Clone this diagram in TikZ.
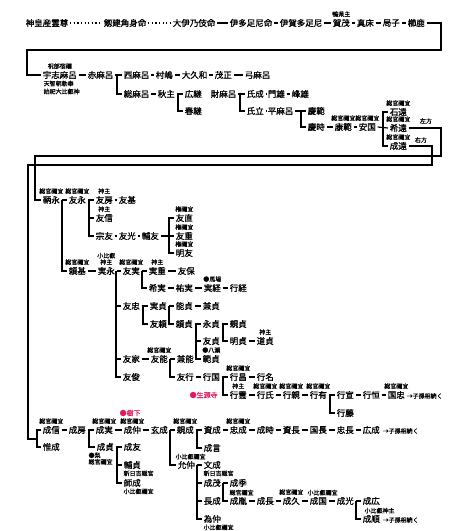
\documentclass[tikz,border=0pt]{standalone}
\usepackage{fontspec}
\newfontfamily\jp{Noto Sans CJK JP}[FakeBold=1.2]
\newfontfamily\jpl{Noto Sans CJK JP}[FakeBold=0.6]
\usetikzlibrary{positioning}
\definecolor{jugered}{RGB}{222,28,92}
\tikzset{
  nm/.style={font=\jp\fontsize{8.5}{9}\selectfont, inner xsep=1.2pt, inner ysep=1pt, anchor=west},
  lb/.style={font=\jpl\fontsize{6}{6.5}\selectfont, inner sep=0pt},
  hk/.style={font=\jpl\fontsize{7}{7.5}\selectfont, inner sep=0pt, anchor=west, text=jugered},
}
\begin{document}
\begin{tikzpicture}[x=1pt,y=-1pt,line width=1.2pt]
\useasboundingbox (0,0) rectangle (464,531);

%top row
\node[nm] (kamimusubi) at (24,23) {神皇産霊尊};
\node[nm] (tsunumi) at (102,23) {剱建角身命};
\node[nm] (oikino) at (171,23) {大伊乃伎命};
\node[nm] (itatsu) at (228,23) {伊多足尼命};
\node[nm] (igata) at (278,23) {伊賀多足尼};
\node[nm] (kamo) at (331,23) {賀茂};
\node[lb,above=0pt of kamo] (kamo-l) {鴨県主};
\node[nm] (matoko) at (355,23) {真床};
\node[nm] (tsuboneko) at (381,23) {局子};
\node[nm] (kushika) at (406,23) {櫛鹿};
\draw[dash pattern=on 1.2pt off 2.4pt] (kamimusubi.east) -- (tsunumi.west) (tsunumi.east) -- (oikino.west);
\draw (oikino.east) -- (itatsu.west) (itatsu.east) -- (igata.west) (igata.east) -- (kamo.west)
      (kamo.east) -- (matoko.west) (matoko.east) -- (tsuboneko.west) (tsuboneko.east) -- (kushika.west);
\coordinate (bendA) at (441,50);
\coordinate (bendB) at (27,50);

%ushimaro
\node[nm] (ushimaro) at (41,75) {宇志麻呂};
\node[lb,above=0pt of ushimaro] (ushimaro-l) {祝部宿禰};
\node[lb,anchor=west] (ushimaro-l2) at (43,83.5) {天智朝勅奉};
\node[lb,anchor=west] (ushimaro-l3) at (43,91.5) {始祀大比叡神};
\draw (kushika.east) -| (bendA) -- (bendB) |- (ushimaro.west);
\node[nm] (akamaro) at (86,75) {赤麻呂};
\node[nm] (nishimaro) at (122,75) {西麻呂};
\node[nm] (murashima) at (154,75) {村嶋};
\node[nm] (okuwa) at (180,75) {大久和};
\node[nm] (shigemasa) at (213,75) {茂正};
\node[nm] (yumimaro) at (243,75) {弓麻呂};
\draw (ushimaro.east) -- (akamaro.west) (akamaro.east) -- (nishimaro.west);
\draw (nishimaro.east) -- (murashima.west) (murashima.east) -- (okuwa.west)
      (okuwa.east) -- (shigemasa.west) (shigemasa.east) -- (yumimaro.west);

\node[nm] (fusamaro) at (122,94) {総麻呂};
\node[nm] (akinushi) at (156,94) {秋主};
\node[nm] (hirotsugu) at (183,94) {広継};
\node[nm] (harutsugu) at (183,111) {春継};
\node[nm] (takaramaro) at (209,94) {財麻呂};
\draw ([xshift=-5pt]nishimaro.west) |- (fusamaro.west);
\draw (fusamaro.east) -- (akinushi.west) (akinushi.east) -- (hirotsugu.west);
\draw ([xshift=-5pt]hirotsugu.west) |- (harutsugu.west);

\node[nm] (ujinari) at (245,94) {氏成};
\node[nm] (kadoo) at (266,94) {門雄};
\node[nm] (mineo) at (290,94) {峰雄};
\node[nm] (ujitatsu) at (245,111) {氏立};
\node[nm] (hiramaro) at (266,111) {平麻呂};
\node[nm] (keihan) at (306,111) {慶範};
\node[nm] (keiji) at (306,127) {慶時};
\node[nm] (kohan) at (333,127) {康範};
\node[nm] (yasukuni) at (357,127) {安国};
\node[lb,above=0pt of kohan] (kohan-l) {総官禰宜};
\node[lb,above=0pt of yasukuni] (yasukuni-l) {総官禰宜};
\draw (takaramaro.east) -- (ujinari.west) (ujinari.east) -- (kadoo.west) (kadoo.east) -- (mineo.west);
\draw ([xshift=-5pt]ujinari.west) |- (ujitatsu.west);
\draw (ujitatsu.east) -- (hiramaro.west) (hiramaro.east) -- (keihan.west);
\draw ([xshift=-5pt]keihan.west) |- (keiji.west);
\draw (keiji.east) -- (kohan.west) (kohan.east) -- (yasukuni.west);

\node[nm] (ishito) at (388,112) {石遠};
\node[nm] (marito) at (388,128) {希遠};
\node[nm] (narito) at (388,146) {成遠};
\node[lb,above=0pt of ishito] (ishito-l) {総官禰宜};
\node[lb,above=0pt of marito] (marito-l) {総官禰宜};
\node[lb,above=0pt of narito] (narito-l) {総官禰宜};
\draw (yasukuni.east) -- (marito.west);
\draw (ishito.west) -- ++(-5pt,0) |- (narito.west);

%left / right lines
\node[lb] (hidari) at (426,121) {左方};
\node[lb] (migi) at (421,140) {右方};
\coordinate (lc1) at (441,156);
\coordinate (lc2) at (35,156);
\coordinate (rc1) at (432,165);
\coordinate (rc2) at (28,165);
\coordinate (rc3) at (38,439);

%tomoe line
\node[nm] (tomoe) at (41,200) {鞆永};
\node[nm] (tomonaga) at (67,200) {友永};
\node[nm] (tomofusa) at (94,200) {友房};
\node[nm] (tomomoto) at (117,200) {友基};
\node[nm] (tomonobu) at (94,218) {友信};
\node[nm] (munetomo) at (94,236) {宗友};
\node[nm] (tomomitsu) at (117,236) {友光};
\node[nm] (suketomo) at (140,236) {輔友};
\node[nm] (tomonao) at (174,218) {友直};
\node[nm] (tomoshige) at (174,236) {友重};
\node[nm] (akitomo) at (174,253) {明友};
\node[lb,above=0pt of tomoe] (tomoe-l) {総官禰宜};
\node[lb,above=0pt of tomonaga] (tomonaga-l) {総官禰宜};
\node[lb,above=0pt of tomofusa] (tomofusa-l) {神主};
\node[lb,above=0pt of tomonobu] (tomonobu-l) {神主};
\node[lb,above=0pt of tomonao] (tomonao-l) {権禰宜};
\node[lb,above=0pt of tomoshige] (tomoshige-l) {権禰宜};
\node[lb,above=0pt of akitomo] (akitomo-l) {権禰宜};
\draw (marito.east) -| (lc1) -- (lc2) |- (tomoe.west);
\draw (tomoe.east) -- (tomonaga.west) (tomonaga.east) -- (tomofusa.west) (tomofusa.east) -- (tomomoto.west);
\draw ([xshift=-5pt]tomofusa.west) |- (tomonobu.west) ([xshift=-5pt]tomofusa.west) |- (munetomo.west);
\draw (munetomo.east) -- (tomomitsu.west) (tomomitsu.east) -- (suketomo.west) (suketomo.east) -- (tomoshige.west);
\draw (tomonao.west) -- ++(-5pt,0) |- (akitomo.west);

%yorimoto line
\node[nm] (yorimoto) at (67,271) {頼基};
\node[nm] (sanenaga) at (96,271) {実永};
\node[nm] (tomozane) at (121,271) {友実};
\node[nm] (saneshige) at (147,271) {実重};
\node[nm] (tomoyasu) at (176,271) {友保};
\node[nm] (marezane) at (147,288) {希実};
\node[nm] (sukezane) at (174,288) {祐実};
\node[nm] (sanetsune) at (202,288) {実経};
\node[nm] (yukitsune) at (228,288) {行経};
\node[lb,above=0pt of yorimoto] (yorimoto-l) {総官禰宜};
\node[lb,above=0pt of sanenaga,align=center] (sanenaga-l) {小比叡\\神主};
\node[lb,above=0pt of tomozane] (tomozane-l) {総官禰宜};
\node[lb,above=0pt of saneshige] (saneshige-l) {神主};
\node[lb,above=0pt of sanetsune] (sanetsune-l) {●馬場};
\draw ([xshift=-5pt]tomonaga.west) |- (yorimoto.west);
\draw (yorimoto.east) -- (sanenaga.west) (sanenaga.east) -- (tomozane.west)
      (tomozane.east) -- (saneshige.west) (saneshige.east) -- (tomoyasu.west);
\draw ([xshift=-5pt]saneshige.west) |- (marezane.west);
\draw (marezane.east) -- (sukezane.west) (sukezane.east) -- (sanetsune.west) (sanetsune.east) -- (yukitsune.west);

\node[nm] (tomotada) at (121,306) {友忠};
\node[nm] (sanesada) at (148,306) {実貞};
\node[nm] (yoshisada) at (174,306) {能貞};
\node[nm] (kanesada) at (201,306) {兼貞};
\node[nm] (tomoyori) at (148,324) {友頼};
\node[nm] (yorisada) at (174,324) {頼貞};
\node[nm] (nagasada) at (201,324) {永貞};
\node[nm] (chikasada) at (228,324) {親貞};
\node[nm] (tomosada) at (201,341) {友貞};
\node[nm] (akisada) at (228,341) {明貞};
\node[nm] (michisada) at (255,341) {道貞};
\node[nm] (norisada) at (201,359) {範貞};
\node[lb,above=0pt of michisada] (michisada-l) {神主};
\node[lb,above=0pt of norisada] (norisada-l) {●八瀬};
\draw (tomotada.east) -- (sanesada.west) (sanesada.east) -- (yoshisada.west) (yoshisada.east) -- (kanesada.west);
\draw ([xshift=-5pt]sanesada.west) |- (tomoyori.west);
\draw ([xshift=-5pt]yoshisada.west) |- (yorisada.west);
\draw (yorisada.east) -- (nagasada.west) (nagasada.east) -- (chikasada.west);
\draw ([xshift=-5pt]nagasada.west) |- (tomosada.west) ([xshift=-5pt]nagasada.west) |- (norisada.west);
\draw ([xshift=-5pt]chikasada.west) |- (akisada.west);
\draw (akisada.east) -- (michisada.west);

\node[nm] (tomoie) at (121,359) {友家};
\node[nm] (tomoyoshi) at (149,359) {友能};
\node[nm] (kaneyoshi) at (175,359) {兼能};
\node[nm] (tomotoshi) at (121,377) {友俊};
\node[nm] (tomoyuki) at (175,377) {友行};
\node[nm] (yukikuni) at (201,377) {行国};
\node[nm] (yukimasa) at (228,377) {行昌};
\node[nm] (yukina) at (255,377) {行名};
\node[lb,above=0pt of tomoyoshi] (tomoyoshi-l) {総官禰宜};
\node[lb,above=0pt of yukimasa] (yukimasa-l) {総官禰宜};
\draw ([xshift=-5pt]tomozane.west) |- (tomotada.west) ([xshift=-5pt]tomozane.west) |- (tomoie.west)
      ([xshift=-5pt]tomozane.west) |- (tomotoshi.west);
\draw (tomoie.east) -- (tomoyoshi.west) (tomoyoshi.east) -- (kaneyoshi.west);
\draw ([xshift=-5pt]kaneyoshi.west) |- (tomoyuki.west);
\draw (tomoyuki.east) -- (yukikuni.west) (yukikuni.east) -- (yukimasa.west) (yukimasa.east) -- (yukina.west);

%shogenji
\node[hk] (shogenji) at (189,395) {●生源寺};
\node[nm] (yukiun) at (228,395) {行雲};
\node[nm] (yukiuji) at (255,395) {行氏};
\node[nm] (yukichika) at (281,395) {行親};
\node[nm] (yukiari) at (308,395) {行有};
\node[nm] (yukinobu) at (335,395) {行宣};
\node[nm] (yukitsuneB) at (361,395) {行恒};
\node[nm] (kunitada) at (386,395) {国忠};
\node[lb,anchor=west] (shison1) at (406,396) {→子孫相続く};
\node[nm] (yukifuji) at (335,413) {行藤};
\node[lb,above=0pt of yukiun] (yukiun-l) {神主};
\node[lb,above=0pt of yukiuji] (yukiuji-l) {総官禰宜};
\node[lb,above=0pt of yukichika] (yukichika-l) {総官禰宜};
\node[lb,above=0pt of yukiari] (yukiari-l) {総官禰宜};
\node[lb,above=0pt of kunitada] (kunitada-l) {総官禰宜};
\draw ([xshift=-5pt]yukimasa.west) |- (yukiun.west);
\draw (yukiun.east) -- (yukiuji.west) (yukiuji.east) -- (yukichika.west) (yukichika.east) -- (yukiari.west)
      (yukiari.east) -- (yukinobu.west) (yukinobu.east) -- (yukitsuneB.west) (yukitsuneB.east) -- (kunitada.west);
\draw ([xshift=-5pt]yukinobu.west) |- (yukifuji.west);

%juge
\node[hk] (juge) at (119,413) {●樹下};
\node[nm] (narinobu) at (41,430) {成信};
\node[nm] (narifusa) at (67,430) {成房};
\node[nm] (narizane) at (94,430) {成実};
\node[nm] (narinaka) at (122,430) {成仲};
\node[nm] (gennari) at (149,430) {玄成};
\node[nm] (chikanari) at (175,430) {親成};
\node[nm] (sukenari) at (202,430) {資成};
\node[nm] (tadanari) at (228,430) {忠成};
\node[nm] (naritoki) at (255,430) {成時};
\node[nm] (sukenaga) at (281,430) {資長};
\node[nm] (kuninaga) at (308,430) {国長};
\node[nm] (tadanaga) at (335,430) {忠長};
\node[nm] (hironari) at (361,430) {広成};
\node[lb,anchor=west] (shison2) at (382,431) {→子孫相続く};
\node[lb,above=0pt of narinobu] (narinobu-l) {総官禰宜};
\node[lb,above=0pt of narizane] (narizane-l) {総官禰宜};
\node[lb,above=0pt of narinaka] (narinaka-l) {総官禰宜};
\node[lb,above=0pt of chikanari] (chikanari-l) {総官禰宜};
\node[lb,above=0pt of tadanari] (tadanari-l) {総官禰宜};
\draw (narito.east) -| (rc1) -- (rc2) |- (rc3);
\draw (narinobu.east) -- (narifusa.west) (narifusa.east) -- (narizane.west) (narizane.east) -- (narinaka.west)
      (narinaka.east) -- (gennari.west) (gennari.east) -- (chikanari.west) (chikanari.east) -- (sukenari.west)
      (sukenari.east) -- (tadanari.west) (tadanari.east) -- (naritoki.west) (naritoki.east) -- (sukenaga.west)
      (sukenaga.east) -- (kuninaga.west) (kuninaga.east) -- (tadanaga.west) (tadanaga.east) -- (hironari.west);

\node[nm] (korenari) at (41,447) {惟成};
\node[nm] (narisada) at (95,447) {成貞};
\node[lb,anchor=north west,align=left] (narisada-l) at (88,452) {●梨\\総官禰宜};
\node[nm] (naritomo) at (122,447) {成友};
\node[nm] (sukesada) at (122,465) {輔貞};
\node[nm] (moronari) at (122,483) {師成};
\node[lb,anchor=north west] (sukesada-l) at (123,470) {新日吉総官};
\node[lb,anchor=north west] (moronari-l) at (123,488) {小比叡禰宜};
\draw (narinobu.west) -- ++(-4pt,0) |- (korenari.west);
\draw ([xshift=-5pt]narizane.west) |- (narisada.west);
\draw (narisada.east) -- (naritomo.west);
\draw ([xshift=-5pt]naritomo.west) |- (sukesada.west) ([xshift=-5pt]naritomo.west) |- (moronari.west);

\node[nm] (narikoto) at (202,448) {成言};
\node[nm] (masanaka) at (176,465) {允仲};
\node[nm] (fuminari) at (202,465) {文成};
\node[nm] (narishige) at (202,483) {成茂};
\node[nm] (naganari) at (202,501) {長成};
\node[nm] (tamenaka) at (202,519) {為仲};
\node[lb,anchor=south west] (masanaka-l) at (175,460) {小比叡禰宜};
\node[lb,anchor=north west] (fuminari-l) at (203,470) {新日吉総官};
\node[lb,anchor=north west] (tamenaka-l) at (203,524) {小比叡禰宜};
\draw ([xshift=-5pt]sukenari.west) |- (narikoto.west);
\draw ([xshift=-5pt]chikanari.west) |- (masanaka.west);
\draw (masanaka.east) -- (fuminari.west);
\draw ([xshift=-5pt]fuminari.west) |- (narishige.west) ([xshift=-5pt]fuminari.west) |- (naganari.west)
      ([xshift=-5pt]fuminari.west) |- (tamenaka.west);

\node[nm] (narisue) at (228,483) {成季};
\node[nm] (naritane) at (228,501) {成胤};
\node[nm] (narinaga) at (255,501) {成長};
\node[nm] (narihisa) at (281,501) {成久};
\node[nm] (narikuni) at (308,501) {成国};
\node[nm] (narimitsu) at (335,501) {成光};
\node[nm] (narihiro) at (361,501) {成広};
\node[nm] (narinori) at (361,519) {成順};
\node[lb,anchor=west] (shison3) at (382,520) {→子孫相続く};
\node[lb,anchor=south west] (naritane-l) at (229,496) {総官禰宜};
\node[lb,above=0pt of narihisa] (narihisa-l) {総官禰宜};
\node[lb,anchor=south west] (narikuni-l) at (307,496) {小比叡禰宜};
\node[lb,anchor=south west] (narinori-l) at (364,514) {小比叡神主};
\draw (narishige.east) -- (narisue.west);
\draw ([xshift=-5pt]narisue.west) |- (naritane.west);
\draw (naritane.east) -- (narinaga.west) (narinaga.east) -- (narihisa.west) (narihisa.east) -- (narikuni.west)
      (narikuni.east) -- (narimitsu.west) (narimitsu.east) -- (narihiro.west);
\draw ([xshift=-5pt]narihiro.west) |- (narinori.west);

\end{tikzpicture}
\end{document}
